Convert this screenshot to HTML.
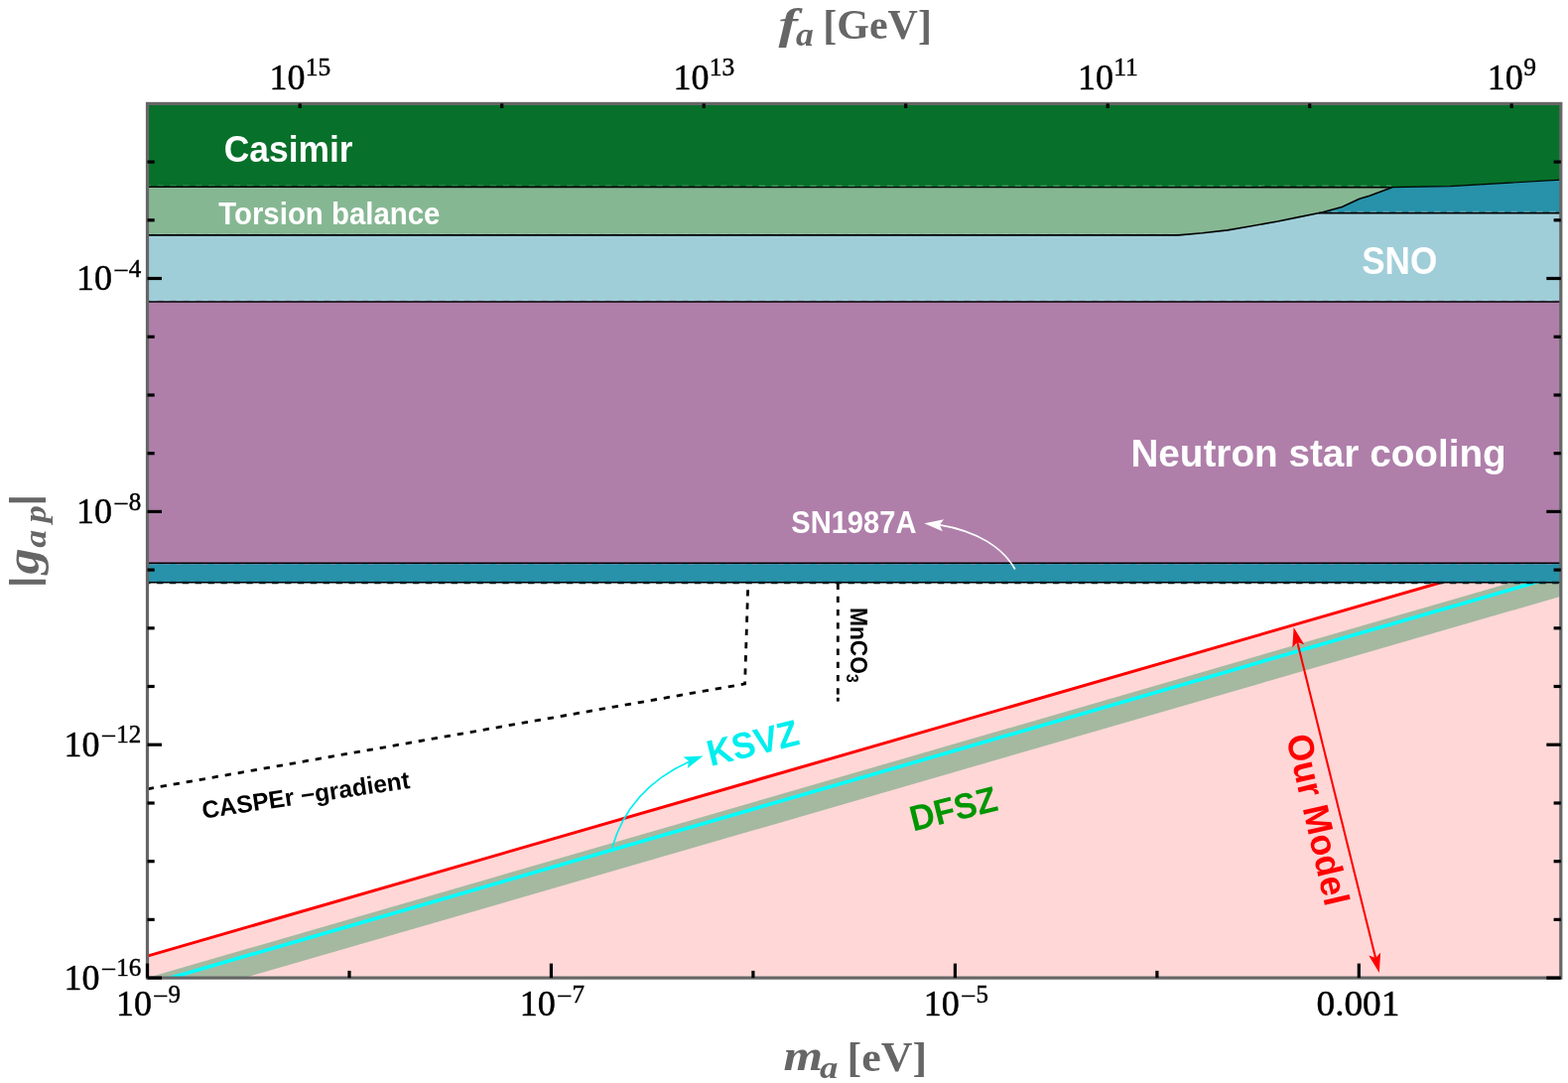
<!DOCTYPE html>
<html lang="en">
<head>
<meta charset="utf-8">
<title>Axion-proton coupling limits</title>
<style>html,body{margin:0;padding:0;background:#fff;overflow:hidden}svg{display:block}</style>
</head>
<body>
<svg width="1580" height="1091" viewBox="0 0 1580 1091" role="img" aria-label="Axion-proton coupling versus axion mass">
<rect x="0" y="0" width="1580" height="1091" fill="#ffffff"/>
<defs><clipPath id="pc"><rect x="148.5" y="104.4" width="1424.3" height="880.7"/></clipPath></defs>
<g clip-path="url(#pc)">
<polygon points="143.5,964.5 1577.8,550.4 1577.8,990.1 143.5,990.1" fill="#ffd7d7"/>
<polygon points="143.5,986.4 1577.8,570.9 1577.8,599.3 143.5,1014.8" fill="#a5b9a0"/>
<line x1="143.5" y1="993.3" x2="1577.8" y2="577.8" stroke="#00ffff" stroke-width="3.6"/>
<line x1="143.5" y1="964.5" x2="1577.8" y2="550.4" stroke="#ff0000" stroke-width="3.0"/>
<rect x="148.5" y="104.4" width="1424.3" height="199.6" fill="#9fced9"/>
<rect x="148.5" y="304.0" width="1424.3" height="263.2" fill="#af7faa"/>
<rect x="148.5" y="567.2" width="1424.3" height="19.8" fill="#2792aa"/>
<polygon points="1331.9,214.0 1352.2,208.5 1369.9,200.3 1380.0,197.3 1402.8,188.7 1461.0,187.6 1575.0,181.1 1575.0,214.6" fill="#2792aa"/>
<polygon points="148.5,188.2 1402.8,188.2 1402.8,188.7 1380.0,197.3 1369.9,200.3 1352.2,208.5 1331.9,214.0 1306.6,219.1 1287.6,223.0 1262.3,227.5 1237.0,231.9 1211.6,234.8 1187.6,236.9 148.5,236.9" fill="#86b793"/>
<polygon points="148.5,104.4 1575.0,104.4 1575.0,181.1 1461.0,187.6 1402.8,188.7 148.5,188.2" fill="#07702a"/>
<line x1="148.5" y1="187.85" x2="1402" y2="187.85" stroke="#86b793" stroke-width="2.6" stroke-dasharray="6.4,6.5" stroke-dashoffset="3.0" opacity="0.45"/>
<line x1="148.5" y1="236.55" x2="1188" y2="236.55" stroke="#9fced9" stroke-width="2.6" stroke-dasharray="6.4,6.5" stroke-dashoffset="3.0" opacity="0.45"/>
<line x1="1332" y1="214.1" x2="1572.8" y2="214.1" stroke="#d8eef2" stroke-width="2.6" stroke-dasharray="6.4,6.5" stroke-dashoffset="3.0" opacity="0.45"/>
<line x1="148.5" y1="303.65" x2="1572.8" y2="303.65" stroke="#af7faa" stroke-width="2.6" stroke-dasharray="6.4,6.5" stroke-dashoffset="3.0" opacity="0.45"/>
<line x1="148.5" y1="567.75" x2="1572.8" y2="567.75" stroke="#af7faa" stroke-width="2.6" stroke-dasharray="6.4,6.5" stroke-dashoffset="-3.1" opacity="0.45"/>
<polyline points="148.5,188.2 1402.8,188.7" stroke="#000000" stroke-width="1.6" fill="none" stroke-linejoin="round"/>
<polyline points="1402.8,188.7 1461.0,187.6 1575.0,181.1" stroke="#000000" stroke-width="1.2" fill="none" stroke-linejoin="round"/>
<polyline points="148.5,236.9 1187.6,236.9 1211.6,234.8 1237.0,231.9 1262.3,227.5 1287.6,223.0 1306.6,219.1 1331.9,214.0 1352.2,208.5 1369.9,200.3 1380.0,197.3 1402.8,188.7" stroke="#000000" stroke-width="1.6" fill="none" stroke-linejoin="round"/>
<line x1="1329" y1="214.6" x2="1575" y2="214.6" stroke="#000000" stroke-width="1.6" fill="none" stroke-linejoin="round"/>
<line x1="148.5" y1="304.0" x2="1572.8" y2="304.0" stroke="#000000" stroke-width="1.6" fill="none" stroke-linejoin="round"/>
<line x1="148.5" y1="567.2" x2="1572.8" y2="567.2" stroke="#000000" stroke-width="1.6" fill="none" stroke-linejoin="round"/>
<line x1="148.5" y1="586.8" x2="1572.8" y2="586.8" stroke="#000000" stroke-width="1.6" fill="none"/>
<line x1="148.5" y1="587.05" x2="1572.8" y2="587.05" stroke="#001820" stroke-width="2.4" stroke-dasharray="6.4,6.5" stroke-dashoffset="-9.5"/>
<polyline points="148.5,794.8 750.6,688.9 753.8,587.5" stroke="#000000" stroke-width="2.8" fill="none" stroke-dasharray="6.3,6.9" stroke-dashoffset="-0.2"/>
<line x1="844.3" y1="587.6" x2="844.3" y2="706.6" stroke="#000000" stroke-width="2.8" fill="none" stroke-dasharray="6.3,6.9"/>
<line x1="844.3" y1="702.8" x2="844.3" y2="706.6" stroke="#000" stroke-width="2.8"/>
</g>
<path d="M 1022.8 573.5 C 1011 552, 985 535, 946 528.6" stroke="#ffffff" stroke-width="1.7" fill="none"/>
<polygon points="931.3,527.2 951.1,523.2 946.7,528.8 949.8,535.3" fill="#ffffff"/>
<path d="M 616.7 854.4 C 628 814, 655 785, 695 767" stroke="#00eeee" stroke-width="1.7" fill="none"/>
<polygon points="708.6,761.4 692.7,773.9 694.1,766.8 688.4,762.4" fill="#00eeee"/>
<line x1="1306.0" y1="641.7" x2="1387.4" y2="970.2" stroke="#ff0000" stroke-width="2.1"/>
<polygon points="1303.6,632.0 1314.2,649.3 1307.3,647.0 1302.3,652.2" fill="#ff0000"/>
<polygon points="1389.8,979.9 1379.2,962.6 1386.1,964.9 1391.1,959.7" fill="#ff0000"/>
<rect x="148.5" y="104.4" width="1424.3" height="880.7" fill="none" stroke="#666666" stroke-width="3.2"/>
<line x1="148.5" y1="985.1" x2="163.0" y2="985.1" stroke="#000000" stroke-width="3.2"/>
<line x1="1572.8" y1="985.1" x2="1558.3" y2="985.1" stroke="#000000" stroke-width="3.2"/>
<line x1="148.5" y1="926.4" x2="155.7" y2="926.4" stroke="#000000" stroke-width="3.2"/>
<line x1="1572.8" y1="926.4" x2="1565.6" y2="926.4" stroke="#000000" stroke-width="3.2"/>
<line x1="148.5" y1="867.7" x2="155.7" y2="867.7" stroke="#000000" stroke-width="3.2"/>
<line x1="1572.8" y1="867.7" x2="1565.6" y2="867.7" stroke="#000000" stroke-width="3.2"/>
<line x1="148.5" y1="809.0" x2="155.7" y2="809.0" stroke="#000000" stroke-width="3.2"/>
<line x1="1572.8" y1="809.0" x2="1565.6" y2="809.0" stroke="#000000" stroke-width="3.2"/>
<line x1="148.5" y1="750.2" x2="163.0" y2="750.2" stroke="#000000" stroke-width="3.2"/>
<line x1="1572.8" y1="750.2" x2="1558.3" y2="750.2" stroke="#000000" stroke-width="3.2"/>
<line x1="148.5" y1="691.5" x2="155.7" y2="691.5" stroke="#000000" stroke-width="3.2"/>
<line x1="1572.8" y1="691.5" x2="1565.6" y2="691.5" stroke="#000000" stroke-width="3.2"/>
<line x1="148.5" y1="632.8" x2="155.7" y2="632.8" stroke="#000000" stroke-width="3.2"/>
<line x1="1572.8" y1="632.8" x2="1565.6" y2="632.8" stroke="#000000" stroke-width="3.2"/>
<line x1="148.5" y1="574.1" x2="155.7" y2="574.1" stroke="#000000" stroke-width="3.2"/>
<line x1="1572.8" y1="574.1" x2="1565.6" y2="574.1" stroke="#000000" stroke-width="3.2"/>
<line x1="148.5" y1="515.4" x2="163.0" y2="515.4" stroke="#000000" stroke-width="3.2"/>
<line x1="1572.8" y1="515.4" x2="1558.3" y2="515.4" stroke="#000000" stroke-width="3.2"/>
<line x1="148.5" y1="456.7" x2="155.7" y2="456.7" stroke="#000000" stroke-width="3.2"/>
<line x1="1572.8" y1="456.7" x2="1565.6" y2="456.7" stroke="#000000" stroke-width="3.2"/>
<line x1="148.5" y1="398.0" x2="155.7" y2="398.0" stroke="#000000" stroke-width="3.2"/>
<line x1="1572.8" y1="398.0" x2="1565.6" y2="398.0" stroke="#000000" stroke-width="3.2"/>
<line x1="148.5" y1="339.3" x2="155.7" y2="339.3" stroke="#000000" stroke-width="3.2"/>
<line x1="1572.8" y1="339.3" x2="1565.6" y2="339.3" stroke="#000000" stroke-width="3.2"/>
<line x1="148.5" y1="280.5" x2="163.0" y2="280.5" stroke="#000000" stroke-width="3.2"/>
<line x1="1572.8" y1="280.5" x2="1558.3" y2="280.5" stroke="#000000" stroke-width="3.2"/>
<line x1="148.5" y1="221.8" x2="155.7" y2="221.8" stroke="#000000" stroke-width="3.2"/>
<line x1="1572.8" y1="221.8" x2="1565.6" y2="221.8" stroke="#000000" stroke-width="3.2"/>
<line x1="148.5" y1="163.1" x2="155.7" y2="163.1" stroke="#000000" stroke-width="3.2"/>
<line x1="1572.8" y1="163.1" x2="1565.6" y2="163.1" stroke="#000000" stroke-width="3.2"/>
<line x1="148.5" y1="985.1" x2="148.5" y2="970.6" stroke="#000000" stroke-width="3.2"/>
<line x1="352.0" y1="985.1" x2="352.0" y2="977.9" stroke="#000000" stroke-width="3.2"/>
<line x1="555.4" y1="985.1" x2="555.4" y2="970.6" stroke="#000000" stroke-width="3.2"/>
<line x1="758.9" y1="985.1" x2="758.9" y2="977.9" stroke="#000000" stroke-width="3.2"/>
<line x1="962.4" y1="985.1" x2="962.4" y2="970.6" stroke="#000000" stroke-width="3.2"/>
<line x1="1165.9" y1="985.1" x2="1165.9" y2="977.9" stroke="#000000" stroke-width="3.2"/>
<line x1="1369.3" y1="985.1" x2="1369.3" y2="970.6" stroke="#000000" stroke-width="3.2"/>
<line x1="302.2" y1="104.4" x2="302.2" y2="108.9" stroke="#000000" stroke-width="3.2"/>
<line x1="505.7" y1="104.4" x2="505.7" y2="108.9" stroke="#000000" stroke-width="3.2"/>
<line x1="709.2" y1="104.4" x2="709.2" y2="108.9" stroke="#000000" stroke-width="3.2"/>
<line x1="912.7" y1="104.4" x2="912.7" y2="108.9" stroke="#000000" stroke-width="3.2"/>
<line x1="1116.2" y1="104.4" x2="1116.2" y2="108.9" stroke="#000000" stroke-width="3.2"/>
<line x1="1319.7" y1="104.4" x2="1319.7" y2="108.9" stroke="#000000" stroke-width="3.2"/>
<line x1="1523.2" y1="104.4" x2="1523.2" y2="108.9" stroke="#000000" stroke-width="3.2"/>
<text x="302.4" y="90.3" font-family='"Liberation Serif", "DejaVu Serif", serif' font-size="36" text-anchor="middle" fill="#000" stroke="#000" stroke-width="0.45">10<tspan font-size="25.5" dy="-14.2" dx="0.4">15</tspan></text>
<text x="709.4" y="90.3" font-family='"Liberation Serif", "DejaVu Serif", serif' font-size="36" text-anchor="middle" fill="#000" stroke="#000" stroke-width="0.45">10<tspan font-size="25.5" dy="-14.2" dx="0.4">13</tspan></text>
<text x="1116.4" y="90.3" font-family='"Liberation Serif", "DejaVu Serif", serif' font-size="36" text-anchor="middle" fill="#000" stroke="#000" stroke-width="0.45">10<tspan font-size="25.5" dy="-14.2" dx="0.4">11</tspan></text>
<text x="1523.4" y="90.3" font-family='"Liberation Serif", "DejaVu Serif", serif' font-size="36" text-anchor="middle" fill="#000" stroke="#000" stroke-width="0.45">10<tspan font-size="25.5" dy="-14.2" dx="0.4">9</tspan></text>
<text x="149.5" y="1022.9" font-family='"Liberation Serif", "DejaVu Serif", serif' font-size="36" text-anchor="middle" fill="#000" stroke="#000" stroke-width="0.45">10<tspan font-size="28.5" dy="-10.4" dx="0.6" stroke-width="0.1">−</tspan><tspan font-size="25" dy="-2.9" dx="0.05">9</tspan></text>
<text x="556.4" y="1022.9" font-family='"Liberation Serif", "DejaVu Serif", serif' font-size="36" text-anchor="middle" fill="#000" stroke="#000" stroke-width="0.45">10<tspan font-size="28.5" dy="-10.4" dx="0.6" stroke-width="0.1">−</tspan><tspan font-size="25" dy="-2.9" dx="0.05">7</tspan></text>
<text x="963.4" y="1022.9" font-family='"Liberation Serif", "DejaVu Serif", serif' font-size="36" text-anchor="middle" fill="#000" stroke="#000" stroke-width="0.45">10<tspan font-size="28.5" dy="-10.4" dx="0.6" stroke-width="0.1">−</tspan><tspan font-size="25" dy="-2.9" dx="0.05">5</tspan></text>
<text stroke="#000" stroke-width="0.45" transform="translate(1326.50,1022.75) scale(1.0188,1.0000)" font-family='"Liberation Serif", "DejaVu Serif", serif' font-size="36.62" fill="#000">0.001</text>
<text x="142.3" y="292.0" font-family='"Liberation Serif", "DejaVu Serif", serif' font-size="36" text-anchor="end" fill="#000" stroke="#000" stroke-width="0.45">10<tspan font-size="28.5" dy="-10.4" dx="0.6" stroke-width="0.1">−</tspan><tspan font-size="25" dy="-2.9" dx="0.05">4</tspan></text>
<text x="142.3" y="526.9" font-family='"Liberation Serif", "DejaVu Serif", serif' font-size="36" text-anchor="end" fill="#000" stroke="#000" stroke-width="0.45">10<tspan font-size="28.5" dy="-10.4" dx="0.6" stroke-width="0.1">−</tspan><tspan font-size="25" dy="-2.9" dx="0.05">8</tspan></text>
<text x="142.3" y="761.7" font-family='"Liberation Serif", "DejaVu Serif", serif' font-size="36" text-anchor="end" fill="#000" stroke="#000" stroke-width="0.45">10<tspan font-size="28.5" dy="-10.4" dx="0.6" stroke-width="0.1">−</tspan><tspan font-size="25" dy="-2.9" dx="0.05">12</tspan></text>
<text x="142.3" y="996.6" font-family='"Liberation Serif", "DejaVu Serif", serif' font-size="36" text-anchor="end" fill="#000" stroke="#000" stroke-width="0.45">10<tspan font-size="28.5" dy="-10.4" dx="0.6" stroke-width="0.1">−</tspan><tspan font-size="25" dy="-2.9" dx="0.05">16</tspan></text>
<text transform="translate(784.40,39.18) scale(1.3018,1.0000)" font-family='"Liberation Serif", "DejaVu Serif", serif' font-size="44.80" fill="#666666" font-weight="bold" font-style="italic">f</text>
<text transform="translate(801.95,46.07) scale(1.0703,1.0000)" font-family='"Liberation Serif", "DejaVu Serif", serif' font-size="33.33" fill="#666666" font-weight="bold" font-style="italic">a</text>
<text transform="translate(829.25,38.69) scale(0.9772,1.0000)" font-family='"Liberation Serif", "DejaVu Serif", serif' font-size="43.01" fill="#666666" font-weight="bold">[GeV]</text>
<text transform="translate(789.38,1078.30) scale(1.1434,1.0000)" font-family='"Liberation Serif", "DejaVu Serif", serif' font-size="44.47" fill="#666666" font-weight="bold" font-style="italic">m</text>
<text transform="translate(826.04,1085.78) scale(1.1457,1.0000)" font-family='"Liberation Serif", "DejaVu Serif", serif' font-size="32.08" fill="#666666" font-weight="bold" font-style="italic">a</text>
<text transform="translate(853.50,1078.59) scale(1.0224,1.0000)" font-family='"Liberation Serif", "DejaVu Serif", serif' font-size="43.01" fill="#666666" font-weight="bold">[eV]</text>
<text transform="translate(0.00,600.00) rotate(-90.00) translate(5.64,36.79) scale(1.8624,1.0000)" font-family='"Liberation Serif", "DejaVu Serif", serif' font-size="39.12" fill="#666666" font-weight="bold">|</text>
<text transform="translate(0.00,600.00) rotate(-90.00) translate(21.42,39.22) scale(1.0947,1.0000)" font-family='"Liberation Serif", "DejaVu Serif", serif' font-size="47.91" fill="#666666" font-weight="bold" font-style="italic">g</text>
<text transform="translate(0.00,600.00) rotate(-90.00) translate(48.35,45.88) scale(1.1187,1.0000)" font-family='"Liberation Serif", "DejaVu Serif", serif' font-size="32.08" fill="#666666" font-weight="bold" font-style="italic">a</text>
<text transform="translate(0.00,600.00) rotate(-90.00) translate(73.61,45.81) scale(1.0784,1.0000)" font-family='"Liberation Serif", "DejaVu Serif", serif' font-size="31.94" fill="#666666" font-weight="bold" font-style="italic">p</text>
<text transform="translate(0.00,600.00) rotate(-90.00) translate(88.24,36.79) scale(1.8624,1.0000)" font-family='"Liberation Serif", "DejaVu Serif", serif' font-size="39.12" fill="#666666" font-weight="bold">|</text>
<text transform="translate(227.10,163.00) scale(0.9730,1.0000)" x="-1.46" y="0" font-family='"Liberation Sans", "DejaVu Sans", sans-serif' font-size="36.40" fill="#fff" font-weight="bold">Casimir</text>
<text transform="translate(220.50,225.90) scale(0.9770,1.0200)" x="-0.30" y="0" font-family='"Liberation Sans", "DejaVu Sans", sans-serif' font-size="30.10" fill="#fff" font-weight="bold">Torsion balance</text>
<text transform="translate(1373.20,275.50) scale(0.9250,1.0000)" x="-1.14" y="0" font-family='"Liberation Sans", "DejaVu Sans", sans-serif' font-size="38.00" fill="#fff" font-weight="bold">SNO</text>
<text transform="translate(1142.00,470.25) scale(0.9750,1.0000)" x="-2.68" y="0" font-family='"Liberation Sans", "DejaVu Sans", sans-serif' font-size="39.70" fill="#fff" font-weight="bold">Neutron star cooling</text>
<text transform="translate(798.10,536.70) scale(0.9480,1.0000)" x="-0.92" y="0" font-family='"Liberation Sans", "DejaVu Sans", sans-serif' font-size="30.70" fill="#fff" font-weight="bold">SN1987A</text>
<text transform="translate(205.60,824.50) rotate(-8.40) scale(0.9950,1.0000)" x="-0.98" y="0" font-family='"Liberation Sans", "DejaVu Sans", sans-serif' font-size="24.60" fill="#000" font-weight="bold">CASPEr −gradient</text>
<text transform="translate(857.10,613.60) rotate(90.00) scale(0.9450,1.0000)" x="-1.62" y="0" font-family='"Liberation Sans", "DejaVu Sans", sans-serif' font-size="24.00" fill="#000" font-weight="bold">MnCO<tspan font-size="16.5" dy="3.8" dx="0.2">3</tspan></text>
<text transform="translate(718.40,771.50) rotate(-13.80) scale(0.9500,1.0000)" x="-2.50" y="0" font-family='"Liberation Sans", "DejaVu Sans", sans-serif' font-size="37.00" fill="#00eeee" font-weight="bold">KSVZ</text>
<text transform="translate(922.40,837.00) rotate(-13.90) scale(0.9530,1.0000)" x="-2.43" y="0" font-family='"Liberation Sans", "DejaVu Sans", sans-serif' font-size="36.00" fill="#009600" font-weight="bold">DFSZ</text>
<text transform="translate(1296.30,744.20) rotate(77.00) scale(0.9750,1.0000)" x="-1.46" y="0" font-family='"Liberation Sans", "DejaVu Sans", sans-serif' font-size="36.50" fill="#ff0000" font-weight="bold">Our Model</text>
</svg>
</body>
</html>
